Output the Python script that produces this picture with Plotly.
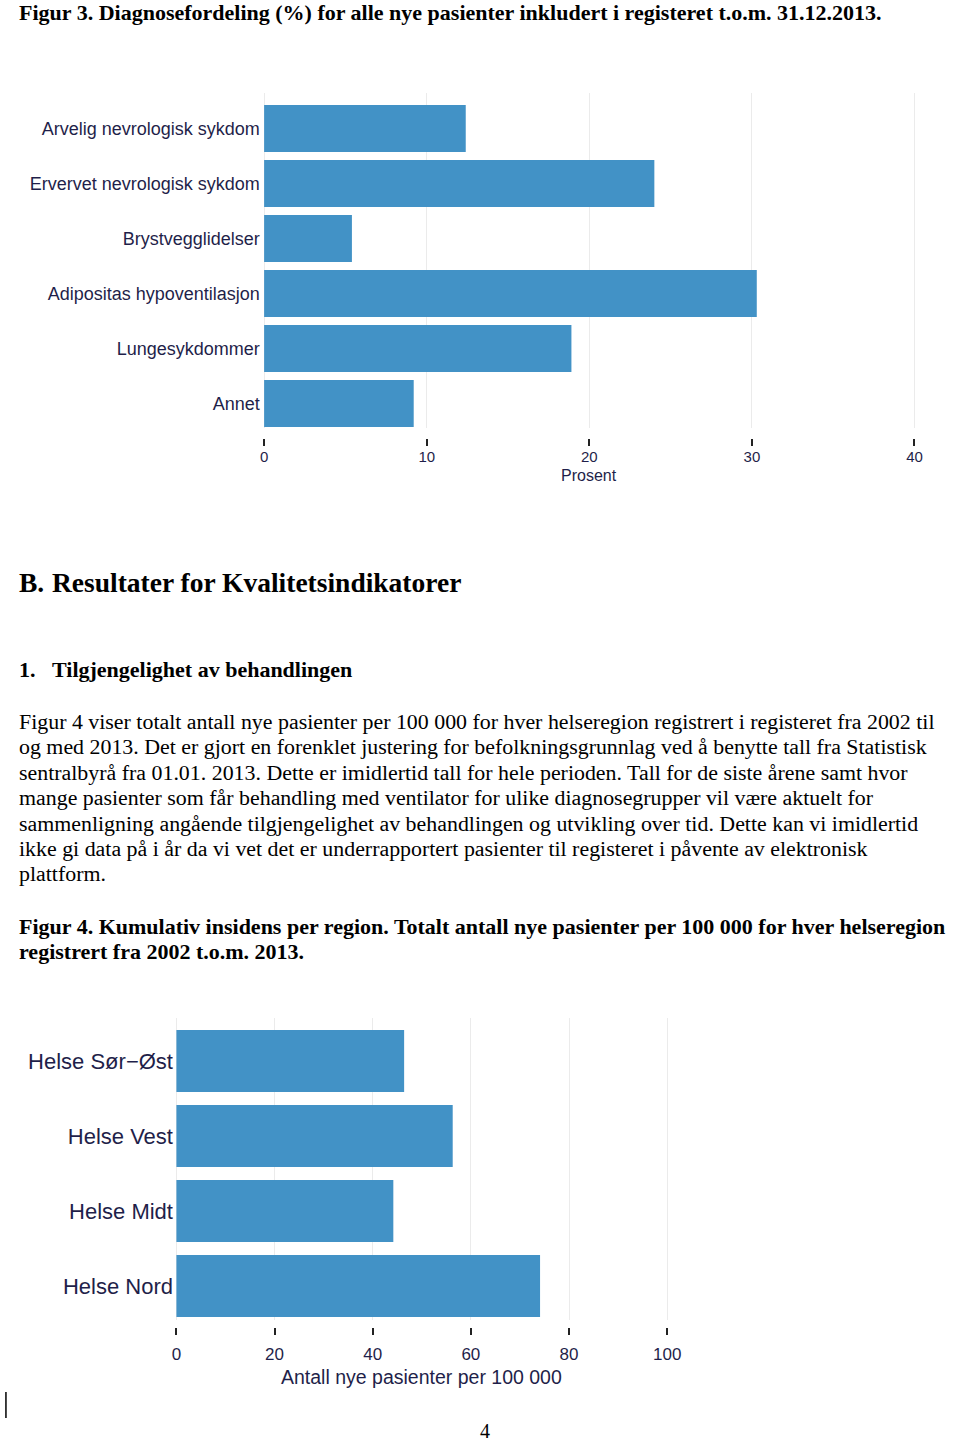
import plotly.graph_objects as go

# ---------------- data ----------------
diag_categories = [
    "Arvelig nevrologisk sykdom",
    "Ervervet nevrologisk sykdom",
    "Brystvegglidelser",
    "Adipositas hypoventilasjon",
    "Lungesykdommer",
    "Annet",
]
diag_percent = [12.4, 24.0, 5.4, 30.3, 18.9, 9.2]
diag_ticks = [0, 10, 20, 30, 40]
diag_axis_title = "Prosent"

region_categories = ["Helse Sør\u2212Øst", "Helse Vest", "Helse Midt", "Helse Nord"]
region_values = [46.4, 56.3, 44.2, 74.1]
region_ticks = [0, 20, 40, 60, 80, 100]
region_axis_title = "Antall nye pasienter per 100 000"

fig3_title = "Figur 3. Diagnosefordeling (%) for alle nye pasienter inkludert i registeret t.o.m. 31.12.2013."
section_letter = "B."
section_title = "Resultater for Kvalitetsindikatorer"
sub_number = "1."
sub_title = "Tilgjengelighet av behandlingen"
paragraph = [
    "Figur 4 viser totalt antall nye pasienter per 100 000 for hver helseregion registrert i registeret fra 2002 til",
    "og med 2013. Det er gjort en forenklet justering for befolkningsgrunnlag ved å benytte tall fra Statistisk",
    "sentralbyrå fra 01.01. 2013. Dette er imidlertid tall for hele perioden. Tall for de siste årene samt hvor",
    "mange pasienter som får behandling med ventilator for ulike diagnosegrupper vil være aktuelt for",
    "sammenligning angående tilgjengelighet av behandlingen og utvikling over tid. Dette kan vi imidlertid",
    "ikke gi data på i år da vi vet det er underrapportert pasienter til registeret i påvente av elektronisk",
    "plattform.",
]
fig4_title = [
    "Figur 4. Kumulativ insidens per region. Totalt antall nye pasienter per 100 000 for hver helseregion",
    "registrert fra 2002 t.o.m. 2013.",
]
page_number = "4"

# ---------------- layout helpers ----------------
W, H = 960, 1442
def px(p):
    return p / W
def py(p):
    return 1 - p / H

BAR = "#4292c6"
LABEL = "#1f1f4a"
GRID = "#ebebeb"
SANS = "Liberation Sans, Arial, sans-serif"
SERIF = "Liberation Serif, Times New Roman, serif"

fig = go.Figure()
fig.add_trace(go.Bar(x=diag_percent, y=diag_categories, orientation="h",
                     marker=dict(color=BAR, line=dict(width=0)), width=0.855,
                     xaxis="x", yaxis="y", showlegend=False))
fig.add_trace(go.Bar(x=region_values, y=region_categories, orientation="h",
                     marker=dict(color=BAR, line=dict(width=0)), width=0.827,
                     xaxis="x2", yaxis="y2", showlegend=False))

x_common = dict(showgrid=True, gridcolor=GRID, gridwidth=1, zeroline=False,
                showline=False, ticks="outside", ticklen=7, tickwidth=2,
                tickcolor="#222222", anchor="free")
y_common = dict(showgrid=False, zeroline=False, showline=False, ticks="",
                categoryorder="array")

fig.update_layout(
    width=W, height=H, autosize=False, margin=dict(l=0, r=0, t=0, b=0),
    paper_bgcolor="white", plot_bgcolor="white",
    xaxis=dict(domain=[px(266 - 3.3), px(926 + 3.3)], range=[-0.2, 40.2],
               tickvals=diag_ticks, position=py(438), ticklabelstandoff=-2,
               tickfont=dict(family=SANS, size=15, color=LABEL), **x_common),
    yaxis=dict(domain=[py(428), py(93)], range=[5.445, -0.645],
               categoryarray=diag_categories, anchor="x",
               tickfont=dict(family=SANS, size=18, color=LABEL), **y_common),
    xaxis2=dict(domain=[px(177 - 2.49), px(675 + 2.49)], range=[-0.5, 100.5],
                tickvals=region_ticks, position=py(1327), ticklabelstandoff=5,
                tickfont=dict(family=SANS, size=17, color=LABEL), **x_common),
    yaxis2=dict(domain=[py(1320), py(1018)], range=[3.453, -0.573],
                categoryarray=region_categories, anchor="x2",
                tickfont=dict(family=SANS, size=22, color=LABEL), **y_common),
)

fig.add_annotation(text=diag_axis_title, xref="x domain", x=0.5, yref="paper", y=py(475),
                   xanchor="center", yanchor="middle", showarrow=False,
                   font=dict(family=SANS, size=16, color=LABEL))
fig.add_annotation(text=region_axis_title, xref="x2 domain", x=0.5, yref="paper", y=py(1377),
                   xanchor="center", yanchor="middle", showarrow=False,
                   font=dict(family=SANS, size=19.5, color=LABEL))

def text(t, x, y, size, bold=False, family=SERIF, anchor="left", yanchor="middle"):
    fig.add_annotation(text=f"<b>{t}</b>" if bold else t, x=px(x), y=py(y),
                       xref="paper", yref="paper", xanchor=anchor, yanchor=yanchor,
                       showarrow=False, borderpad=0, borderwidth=0,
                       font=dict(family=family, size=size, color="black"))

LX = 17.5
text(fig3_title, LX, 0, 22, bold=True, yanchor="top")
text(section_letter, LX, 582, 27.5, bold=True)
text(section_title, 50.5, 582, 27.5, bold=True)
text(sub_number, LX, 669, 22, bold=True)
text(sub_title, 50.5, 669, 22, bold=True)
for i, line in enumerate(paragraph):
    text(line, LX, 721 + i * 25.5, 21.9)
for i, line in enumerate(fig4_title):
    text(line, LX, 926 + i * 25.5, 22, bold=True)
text(page_number, 490, 1442, 20, anchor="center", yanchor="bottom")

fig.add_shape(type="line", xref="paper", yref="paper",
              x0=px(4), x1=px(4), y0=py(1392), y1=py(1418),
              line=dict(color="black", width=1.5))

fig.write_html("out.html")
